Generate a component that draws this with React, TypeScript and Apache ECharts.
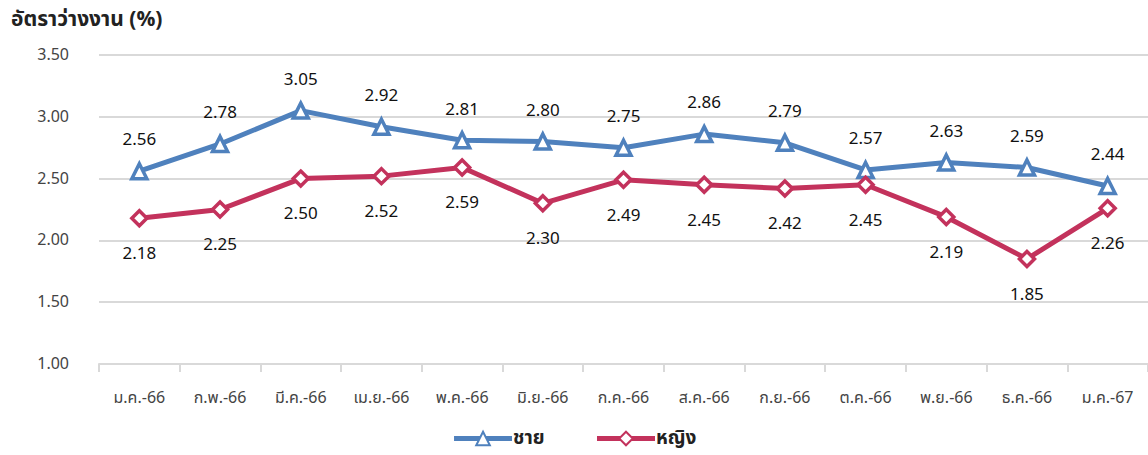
import React, { useEffect, useRef } from "react";
import * as echarts from "echarts";

const categories = ["ม.ค.-66", "ก.พ.-66", "มี.ค.-66", "เม.ย.-66", "พ.ค.-66", "มิ.ย.-66", "ก.ค.-66", "ส.ค.-66", "ก.ย.-66", "ต.ค.-66", "พ.ย.-66", "ธ.ค.-66", "ม.ค.-67"];
const maleValues = [2.56, 2.78, 3.05, 2.92, 2.81, 2.8, 2.75, 2.86, 2.79, 2.57, 2.63, 2.59, 2.44];
const femaleValues = [2.18, 2.25, 2.5, 2.52, 2.59, 2.3, 2.49, 2.45, 2.42, 2.45, 2.19, 1.85, 2.26];
const seriesNames = ["ชาย", "หญิง"];
const titleText = "อัตราว่างงาน (%)";

const FONT = "'Noto Sans Thai', 'Noto Sans', Tahoma, sans-serif";

export default function App() {
  const ref = useRef<HTMLDivElement>(null);
  useEffect(() => {
    if (!ref.current) return;
    const chart = echarts.init(ref.current, null, { renderer: "svg" });
    const labelStyle = {
      show: true,
      fontSize: 17,
      color: "#111",
      fontFamily: FONT,
      formatter: (p: any) => Number(p.value).toFixed(2),
    };
    chart.setOption({
      animation: false,
      textStyle: { fontFamily: FONT },
      title: {
        text: titleText,
        left: 6,
        top: 4,
        textStyle: { fontSize: 21, fontWeight: "bold", color: "#222", fontFamily: FONT },
      },
      grid: { left: 99, right: 0, top: 55, bottom: 91 },
      legend: {
        bottom: 2,
        left: "center",
        itemWidth: 58,
        itemHeight: 17,
        itemGap: 50,
        lineStyle: { width: 5 },
        textStyle: { fontSize: 19, fontWeight: "bold", color: "#222", fontFamily: FONT, padding: [0, 0, 0, -4] },
        data: seriesNames,
      },
      xAxis: {
        type: "category",
        data: categories,
        boundaryGap: true,
        axisLine: { lineStyle: { color: "#d9d9d9", width: 2 } },
        axisTick: { show: true, length: 8, lineStyle: { color: "#d9d9d9", width: 2 } },
        axisLabel: { fontSize: 16, color: "#444", margin: 26, fontFamily: FONT },
      },
      yAxis: {
        type: "value",
        min: 1,
        max: 3.5,
        interval: 0.5,
        axisLine: { show: false },
        axisTick: { show: false },
        splitLine: { lineStyle: { color: "#d9d9d9", width: 2 } },
        axisLabel: { fontSize: 16, color: "#444", margin: 30, formatter: (v: number) => v.toFixed(2), fontFamily: FONT },
      },
      series: [
        {
          name: seriesNames[0],
          type: "line",
          data: maleValues,
          symbol: "triangle",
          symbolSize: 15,
          lineStyle: { color: "#4F81BD", width: 5 },
          itemStyle: { color: "#ffffff", borderColor: "#4F81BD", borderWidth: 3.5 },
          label: { ...labelStyle, position: "top", distance: 13 },
        },
        {
          name: seriesNames[1],
          type: "line",
          data: femaleValues,
          symbol: "diamond",
          symbolSize: 15,
          lineStyle: { color: "#C3325C", width: 5 },
          itemStyle: { color: "#ffffff", borderColor: "#C3325C", borderWidth: 3.5 },
          label: { ...labelStyle, position: "bottom", distance: 18 },
        },
      ],
    });
    return () => chart.dispose();
  }, []);
  return (
    <div
      ref={ref}
      style={{ position: "fixed", left: 0, top: 0, width: 1148, height: 455, background: "#fff" }}
    />
  );
}
